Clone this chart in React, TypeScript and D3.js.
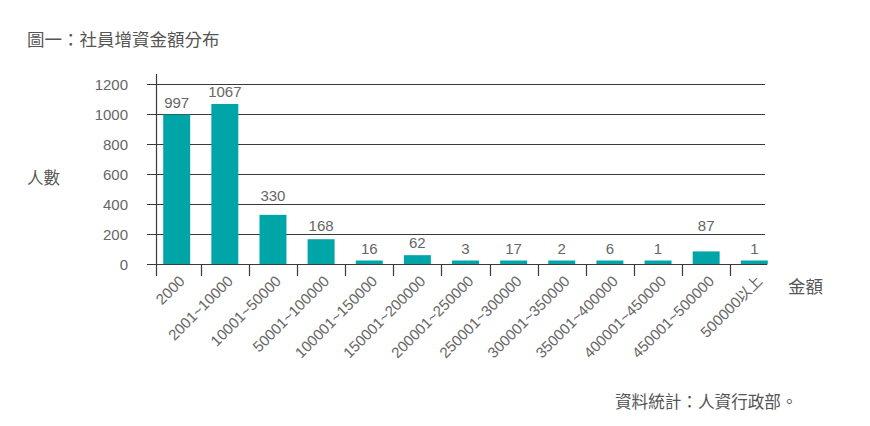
import React from "react";
import * as d3 from "d3";

const categories = [
  "2000", "2001~10000", "10001~50000", "50001~100000", "100001~150000",
  "150001~200000", "200001~250000", "250001~300000", "300001~350000",
  "350001~400000", "400001~450000", "450001~500000", "500000以上",
];
const counts = [997, 1067, 330, 168, 16, 62, 3, 17, 2, 6, 1, 87, 1];
const yTicks = [0, 200, 400, 600, 800, 1000, 1200];

const W = 870, H = 426;
const FONT = "'Liberation Sans', Arial, 'Noto Sans CJK TC', sans-serif";
const CJK = "'Noto Sans CJK TC', sans-serif";
const TEXT = "#666";
const LINE = "#3a3a3a";
const BAR = "#00a5a7";

export default function App() {
  const x = d3.scaleBand<string>().domain(categories).range([156, 775]).paddingInner(0.44).paddingOuter(0.15);
  const y = d3.scaleLinear().domain([0, 1200]).range([264.5, 84]);
  const gap = (x.step() - x.bandwidth()) / 2;
  const grid = yTicks.filter(t => t > 0).map(t => Math.round(y(t)) + 0.5);
  const labelY = (yt: number) => {
    let b = Math.min(yt - 7, 254);
    for (const g of grid) {
      if (b > g - 3 && b - 12 < g) b = g - 4;
    }
    return b;
  };
  return (
    <svg width={W} height={H} style={{ position: "absolute", left: 0, top: 0, background: "#fff" }}>
      <text x={27} y={46} fontSize={17.5} fill="#555" fontFamily={CJK}>圖一：社員增資金額分布</text>
      {grid.map((g, i) => (
        <line key={i} x1={147} x2={765} y1={g} y2={g} stroke={LINE} strokeWidth={1} />
      ))}
      {yTicks.map(t => (
        <text key={t} x={128} y={y(t) + 5.5} textAnchor="end" fontSize={15} fill={TEXT} fontFamily={FONT}>{t}</text>
      ))}
      {categories.map((c, i) => {
        const top = y(counts[i]);
        const h = Math.max(4, y(0) - top);
        const yt = y(0) - h;
        const cx = (x(c) as number) + x.bandwidth() / 2;
        return (
          <g key={c}>
            <rect x={x(c)} y={yt} width={x.bandwidth()} height={h} fill={BAR} />
            <text x={cx} y={labelY(yt)} textAnchor="middle" fontSize={15} fill={TEXT} fontFamily={FONT}>{counts[i]}</text>
            <text transform={`translate(${cx + 9},${282}) rotate(-45)`} textAnchor="end" fontSize={15} fill={TEXT} fontFamily={FONT}>{c}</text>
          </g>
        );
      })}
      <line x1={147} x2={767} y1={264.5} y2={264.5} stroke={LINE} strokeWidth={1.2} />
      <line x1={156.5} x2={156.5} y1={74} y2={276} stroke={LINE} strokeWidth={1.2} />
      {categories.slice(1).map(c => {
        const b = (x(c) as number) - gap;
        return <line key={c} x1={Math.round(b) + 0.5} x2={Math.round(b) + 0.5} y1={264.5} y2={276} stroke={LINE} strokeWidth={1.2} />;
      })}
      <text x={27} y={184} fontSize={16.5} fill="#555" fontFamily={CJK}>人數</text>
      <text x={788} y={293} fontSize={17.5} fill="#555" fontFamily={CJK}>金額</text>
      <text x={615} y={408} fontSize={16.6} fill="#555" fontFamily={CJK}>資料統計：人資行政部。</text>
    </svg>
  );
}
